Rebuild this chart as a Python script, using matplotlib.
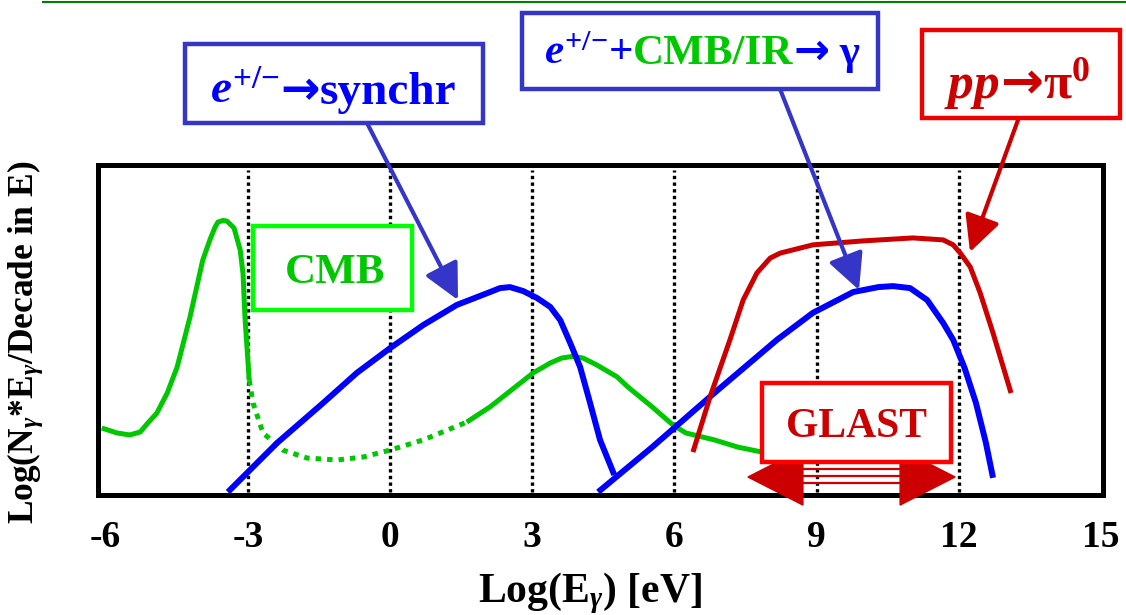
import matplotlib.pyplot as plt
from matplotlib.patches import Rectangle, FancyArrowPatch, Polygon
from matplotlib.lines import Line2D

plt.rcParams["font.family"] = ["Liberation Serif", "DejaVu Serif"]
plt.rcParams["font.weight"] = "bold"
plt.rcParams["mathtext.fontset"] = "custom"
plt.rcParams["mathtext.rm"] = "Liberation Serif:bold"
plt.rcParams["mathtext.it"] = "Liberation Serif:italic:bold"
plt.rcParams["mathtext.bf"] = "Liberation Serif:bold"

# CMB spectrum: thermal peak, dotted bridge, then the IR bump
cmb_x_low = [-6.08, -5.76, -5.49, -5.27, -5.11, -4.92, -4.70, -4.49, -4.22, -3.95, -3.80, -3.69,
             -3.63, -3.52, -3.44, -3.29, -3.16, -3.10, -3.06, -2.97]
cmb_y_low = [2.03, 1.88, 1.82, 1.91, 2.18, 2.48, 3.09, 3.88, 5.39, 7.12, 7.73, 8.12,
             8.27, 8.32, 8.30, 8.09, 7.42, 6.70, 5.39, 3.48]
cmb_x_gap = [-2.97, -2.89, -2.68, -2.26, -1.75, -1.12, -0.57, 0.0, 0.70, 1.62]
cmb_y_gap = [3.48, 2.79, 1.88, 1.36, 1.12, 1.06, 1.15, 1.36, 1.67, 2.21]
cmb_x_high = [1.62, 2.11, 3.02, 3.38, 3.62, 3.85, 4.07, 4.35, 4.79, 5.02, 5.53, 5.97, 6.24, 6.84,
              7.34, 7.85, 8.65]
cmb_y_high = [2.21, 2.67, 3.70, 4.00, 4.15, 4.20, 4.15, 3.95, 3.58, 3.27, 2.67, 2.12, 1.88, 1.67,
              1.45, 1.30, 1.20]

# electron synchrotron
syn_x = [-3.42, -2.38, -1.41, -0.70, 0.0, 0.70, 1.41, 2.11, 2.32, 2.53, 2.81, 3.10, 3.38, 3.59,
         3.80, 4.01, 4.22, 4.43, 4.73]
syn_y = [0.09, 1.58, 2.79, 3.70, 4.45, 5.15, 5.76, 6.15, 6.27, 6.30, 6.18, 5.97, 5.70, 5.30,
         4.61, 3.88, 2.79, 1.67, 0.61]

# inverse Compton on CMB/IR
ic_x = [4.39, 5.53, 6.84, 8.16, 8.92, 9.77, 10.30, 10.61, 10.97, 11.33, 11.67, 11.88, 12.12,
        12.36, 12.57, 12.72]
ic_y = [0.09, 1.45, 3.09, 4.70, 5.52, 6.15, 6.30, 6.33, 6.27, 5.91, 5.21, 4.70, 3.85,
        2.79, 1.58, 0.52]

# pion decay
pp_x = [6.39, 6.75, 7.17, 7.45, 7.74, 8.02, 8.23, 8.92, 9.98, 11.03, 11.67, 11.88, 12.03, 12.24,
        12.45, 12.72, 13.10]
pp_y = [1.30, 2.97, 4.70, 5.91, 6.73, 7.18, 7.33, 7.58, 7.70, 7.79, 7.73, 7.58, 7.33, 6.91,
        6.12, 4.91, 3.09]

decade_marks = [-3, 0, 3, 6, 9, 12]
tick_pos = [-6, -3, 0, 3, 6, 9, 12, 15]
tick_text = ["-6", "-3", "0", "3", "6", "9", "12", "15"]

# GLAST energy window (arrow tips) and arrow head bases
glast_lo, glast_hi = 7.55, 11.92
glast_base_lo, glast_base_hi = 8.71, 10.76

GREEN = "#00c800"
BLUE = "#0000ff"
RED = "#cc0000"
BOXBLUE = "#3535c8"
ARROWFONT = "DejaVu Sans"
EPM = r"$e^{+/{−}}$"

W, H = 1126, 615
fig = plt.figure(figsize=(W / 100, H / 100), dpi=100)


def fx(px):
    return px / W


def fy(py):
    return 1 - py / H


ax = fig.add_axes([fx(98), fy(495), fx(1103) - fx(98), fy(165) - fy(495)])
ax.set_xlim(-6.16, 15.04)
ax.set_ylim(0, 10)
for sp in ax.spines.values():
    sp.set_linewidth(3.6)
ax.set_yticks([])
ax.set_xticks(tick_pos)
ax.set_xticklabels(tick_text, fontsize=27, fontweight="bold")
ax.tick_params(axis="x", length=0, pad=18)

for xv in decade_marks:
    ax.axvline(xv, ymin=0.01, ymax=0.985, color="black", lw=2.4,
               dashes=(1, 1), dash_capstyle="butt", zorder=1)

ax.plot(cmb_x_low, cmb_y_low, color=GREEN, lw=3.6, zorder=2, solid_capstyle="butt")
ax.plot(cmb_x_gap, cmb_y_gap, color=GREEN, lw=3.6, zorder=2, dashes=(1.1, 1.2), dash_capstyle="butt")
ax.plot(cmb_x_high, cmb_y_high, color=GREEN, lw=3.6, zorder=2, solid_capstyle="butt")
ax.plot(syn_x, syn_y, color=BLUE, lw=4.3, zorder=3, solid_capstyle="butt")
ax.plot(ic_x, ic_y, color=BLUE, lw=4.3, zorder=3, solid_capstyle="butt")
ax.plot(pp_x, pp_y, color=RED, lw=3.6, zorder=3, solid_capstyle="butt")

# GLAST range: two solid heads joined by thin lines
tip_y, half_h = 0.545, 0.85
for yl in [0.79, 0.58, 0.36]:
    ax.plot([glast_base_lo, glast_base_hi], [yl, yl], color=RED, lw=1.6, zorder=4)
ax.add_patch(Polygon([(glast_lo, tip_y), (glast_base_lo, tip_y + half_h), (glast_base_lo, tip_y - half_h)],
                     closed=True, color=RED, zorder=4, clip_on=False))
ax.add_patch(Polygon([(glast_hi, tip_y), (glast_base_hi, tip_y + half_h), (glast_base_hi, tip_y - half_h)],
                     closed=True, color=RED, zorder=4, clip_on=False))


def box(x0, y0, x1, y1, color):
    fig.add_artist(Rectangle((fx(x0), fy(y1)), fx(x1) - fx(x0), fy(y0) - fy(y1),
                             facecolor="white", edgecolor=color, lw=3.2, zorder=5))


def arrow(x0, y0, x1, y1, color):
    fig.add_artist(FancyArrowPatch((fx(x0), fy(y0)), (fx(x1), fy(y1)),
                                   arrowstyle="-|>,head_length=22,head_width=11",
                                   mutation_scale=1, color=color, lw=3.0,
                                   shrinkA=0, shrinkB=0, zorder=4))


def label(cx, base_py, pieces, size):
    r = fig.canvas.get_renderer()
    texts = []
    for s, c, fam in pieces:
        kw = {"family": fam} if fam else {}
        texts.append(fig.text(0, fy(base_py), s, color=c, fontsize=size, va="baseline",
                              ha="left", zorder=6, **kw))
    widths = [t.get_window_extent(r).width for t in texts]
    x = cx - sum(widths) / 2
    for t, w in zip(texts, widths):
        t.set_x(fx(x))
        x += w


box(185, 44, 483, 123, BOXBLUE)
box(522, 13, 878, 89, BOXBLUE)
box(922, 30, 1120, 118, "#ee0000")
box(253, 226, 412, 310, "#00ff00")
box(762, 383, 951, 462, "#ff0000")

arrow(367, 123, 458, 300, BOXBLUE)
arrow(780, 89, 859, 290, BOXBLUE)
arrow(1018, 120, 970, 252, RED)

label(333, 104, [(EPM, BLUE, None), ("→", BLUE, ARROWFONT), ("synchr", BLUE, None)], 34)
label(702, 64, [(EPM + "+", BLUE, None), ("CMB/IR", GREEN, None),
                ("→", BLUE, ARROWFONT), (" γ", BLUE, None)], 31)
label(1017, 98, [(r"$pp$", RED, None), ("→", RED, ARROWFONT), (r"$\mathrm{\pi}^0$", RED, None)], 37)
label(335, 283, [("CMB", GREEN, None)], 31)
label(857, 437, [("GLAST", RED, None)], 30)

fig.text(fx(590), fy(602), r"Log(E$_\gamma$) [eV]", fontsize=30, ha="center", va="baseline")
fig.text(fx(25), fy(342), r"Log(N$_\gamma$*E$_\gamma$/Decade in E)", fontsize=25.5,
         rotation=90, ha="center", va="center")

fig.add_artist(Line2D([fx(43), 1], [fy(1.5), fy(1.5)], color="#008000", lw=1.5))

fig.savefig("out.png", dpi=100)
